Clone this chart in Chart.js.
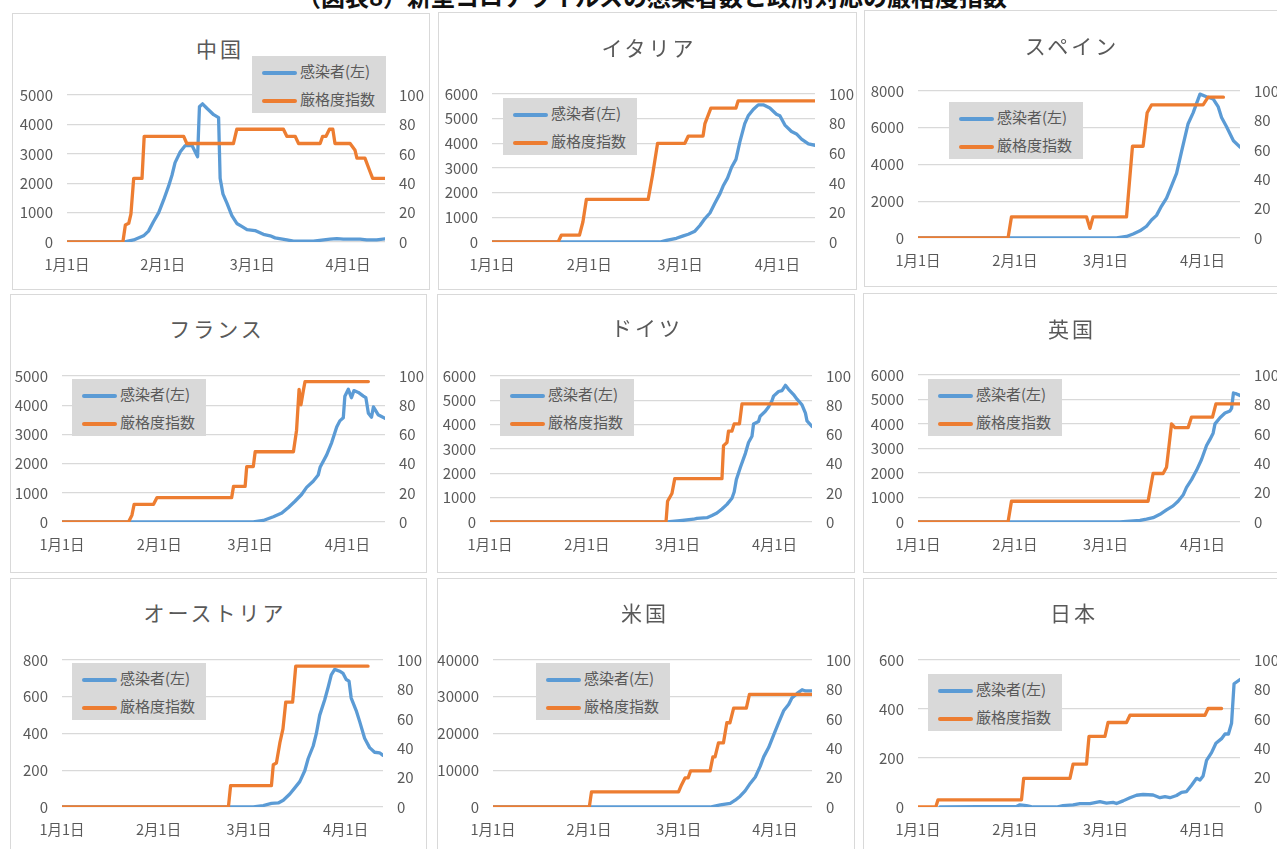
<!DOCTYPE html>
<html>
<head>
<meta charset="utf-8">
<script src="https://cdn.jsdelivr.net/npm/chart.js@4.4.1/dist/chart.umd.min.js"></script>
<style>
  body { margin: 0; width: 1277px; height: 849px; overflow: hidden; background: #fff; position: relative;
         font-family: "Noto Sans CJK JP", "Noto Sans", sans-serif; }
  .frame { position: absolute; border: 1px solid #d9d9d9; box-sizing: border-box; }
  .ttl { position: absolute; width: 300px; text-align: center; font-size: 21px; letter-spacing: 3px; color: #595959; line-height: 24px; }
  .lg { position: absolute; width: 134px; height: 57px; background: #d9d9d9; font-size: 15px; color: #595959; }
  .lg div { position: absolute; left: 10px; height: 20px; line-height: 20px; white-space: nowrap; }
  .lg span { display: inline-block; width: 35px; height: 4px; border-radius: 2px; vertical-align: middle; margin-right: 3px; }
  canvas { position: absolute; }
  #head { position: absolute; left: 0; width: 1304px; top: -22px; text-align: center; font-weight: bold; font-size: 24px; color: #111; white-space: nowrap; }
</style>
</head>
<body>
<div id="head">（図表8）新型コロナウイルスの感染者数と政府対応の厳格度指数</div>
<script>
// day 0 = 1月1日
const monthDays = [0, 31, 60, 91];
const monthLabels = ['1月1日', '2月1日', '3月1日', '4月1日'];
const seriesNames = ['感染者(左)', '厳格度指数'];
const countries = ['中国', 'イタリア', 'スペイン', 'フランス', 'ドイツ', '英国', 'オーストリア', '米国', '日本'];
const leftMax = [5000, 6000, 8000, 5000, 6000, 6000, 800, 40000, 600];
const leftStep = [1000, 1000, 2000, 1000, 1000, 1000, 200, 10000, 200];

// [day, value]
const chinaCases = [[0,0],[18.3,0],[21.6,70],[24.8,210],[26.4,370],[28,690],[29.7,1000],[31.3,1430],[32.9,1900],[34,2270],[35,2700],[36.7,3070],[38.3,3280],[40.5,3280],[41.5,3070],[42.3,2900],[42.9,4600],[43.9,4700],[45.3,4550],[47.5,4330],[49.1,4230],[49.6,2170],[50.5,1640],[51.8,1320],[53.4,900],[55,630],[56.6,530],[58.3,420],[60.9,390],[63.6,260],[65.8,210],[67.4,140],[71.2,70],[73.4,30],[79.8,30],[85.2,95],[87.4,115],[89.5,95],[94.9,95],[97.1,70],[100.3,70],[103,105]];
const chinaIndex = [[0,0],[18.1,0],[18.9,11.6],[20,12.7],[20.7,19],[21.6,43.3],[24.3,43.3],[25,71.9],[37.8,71.9],[38.8,67],[53.9,67],[55,76.7],[70.1,76.7],[71.2,71.9],[73.9,71.9],[75,67],[82,67],[82.8,71.9],[83.9,71.9],[85,76.7],[86.1,76.7],[86.8,67],[91.7,67],[93.3,62.4],[93.9,57.1],[96.5,57.1],[98.2,47.6],[99,43.3],[103,43.3]];

const italyCases = [[0,0],[53.5,0],[55.6,63],[58.8,150],[61,250],[62.6,316],[64.7,440],[66.3,670],[67.9,950],[69.5,1175],[71.1,1580],[72.7,1960],[73.7,2270],[75.1,2590],[76.4,3030],[77.8,3350],[79,4040],[80.6,4800],[81.7,5115],[83.3,5370],[84.9,5560],[86.5,5560],[88.6,5430],[90.7,5180],[91.8,5115],[93.4,4740],[95.5,4480],[97.1,4380],[98.7,4170],[100.9,3980],[103,3920]];
const italyIndex = [[0,0],[21.1,0],[22.1,4.6],[27.9,4.6],[29,13.7],[30.1,28.8],[49.8,28.8],[51.2,45.3],[52.8,66.7],[61.5,66.7],[62.6,71.6],[67.3,71.6],[67.9,80],[69.8,90.5],[77.8,90.5],[78.5,95.4],[103,95.4]];

const spainCases = [[0,0],[63.5,0],[66.7,85],[68.8,220],[71,390],[73.1,640],[74.7,980],[76.3,1230],[77.9,1740],[79.5,2170],[81.1,2840],[82.7,3520],[84.3,4700],[86.4,6220],[88,6810],[90.2,7830],[92.3,7690],[94.4,7570],[96,7150],[97.1,6560],[98.7,6050],[100.9,5290],[103,4950]];
const spainIndex = [[0,0],[28.8,0],[29.9,14.4],[53.9,14.4],[55,6.6],[56,14.4],[66.7,14.4],[68.6,62.4],[72,62.4],[73.3,85.2],[74.7,90.5],[91.2,90.5],[92.8,95.8],[97.7,95.8]];

const franceCases = [[0,0],[61,0],[64.2,53],[67.4,180],[70.1,307],[72.2,498],[74.3,710],[76.4,942],[78,1186],[80.1,1398],[81.7,1610],[82.3,1874],[84.4,2298],[86,2721],[87.6,3250],[88.6,3463],[89.7,3569],[90.2,4310],[91.3,4543],[92.3,4257],[93.1,4500],[94.5,4437],[96.1,4310],[96.9,4257],[97.7,3728],[98.7,3590],[99.3,3940],[100.8,3675],[103,3548]];
const franceIndex = [[0,0],[21.2,0],[22.3,4.7],[23,12.1],[29.2,12.1],[30.3,16.7],[54.1,16.7],[54.7,24.4],[58.4,24.4],[58.9,37.9],[61,37.9],[61.6,48.1],[73.8,48.1],[74.8,62.9],[75.6,90.9],[76.2,80.3],[77,90.5],[77.5,96.2],[97.7,96.2]];

const germanyCases = [[0,0],[56.6,0],[60.8,51],[65.1,114],[66.2,152],[69.4,178],[71,267],[72.6,369],[74.2,534],[75.8,724],[77.4,979],[78.1,1233],[78.8,1741],[80.1,2250],[81.7,2822],[82.7,3266],[83.8,3521],[84.3,4029],[85.9,4131],[86.4,4347],[88,4538],[89.1,4728],[90.2,4982],[90.7,5173],[92.3,5364],[93.4,5402],[94.5,5618],[95.5,5453],[97.1,5236],[98.2,5046],[99.8,4817],[100.9,4474],[101.4,4156],[103,3927]];
const germanyIndex = [[0,0],[56.3,0],[56.8,14.2],[58.2,19.5],[59.1,29.7],[74.2,29.7],[74.7,52.3],[75.8,54.4],[76.3,62.3],[77.4,62.3],[78.1,67.2],[79.8,67.2],[80.6,80.9],[98.2,80.9]];

const ukCases = [[0,0],[64.6,0],[71,63],[73.1,114],[75.2,177],[77.4,316],[79.5,493],[81.6,657],[83.2,846],[84.8,1099],[85.9,1415],[87.5,1730],[89.1,2109],[90.7,2551],[92.3,3120],[93.4,3372],[94.4,3625],[95,4004],[96.6,4257],[98.2,4446],[99.8,4534],[100.3,4635],[100.9,5267],[101.9,5229],[103,5166]];
const ukIndex = [[0,0],[28.8,0],[29.9,14.1],[73.6,14.1],[75.2,33],[78.4,33],[79.5,37.3],[81.1,66.7],[82.2,64.2],[86.4,64.2],[87.5,71.4],[94.2,71.4],[95.3,80.4],[103,80.4]];

const austriaCases = [[0,0],[61.4,0],[64.6,8],[67.2,20],[69.4,22],[71,37],[73.1,71],[74.7,104],[76.3,138],[77.9,197],[79,264],[80.6,332],[81.6,399],[82.7,500],[84.3,584],[85.4,652],[86.4,719],[87.5,749],[89.1,739],[90.2,727],[91.2,694],[92.1,685],[92.8,593],[94.4,525],[95.5,466],[97.1,374],[98.7,323],[100.3,298],[101.9,295],[103,281]];
const austriaIndex = [[0,0],[53.4,0],[54.1,14.5],[67.2,14.5],[67.8,28.8],[68.8,29.9],[69.9,43.6],[70.9,53.1],[71.8,71.4],[74,71.4],[75,95.8],[98.2,95.8]];

const usCases = [[0,0],[70.1,0],[73.4,590],[76.6,1010],[78.2,1850],[79.8,2950],[81.4,4380],[83.1,6480],[84.7,8170],[86.3,11110],[87.4,13640],[89,16170],[90.6,19530],[92.2,22900],[93.9,26270],[95.5,27950],[96.5,29640],[98.2,30900],[99.8,31910],[100.9,31580],[103,31580]];
const usIndex = [[0,0],[31.1,0],[31.8,10.3],[59.9,10.3],[60.9,15.2],[62,19.8],[63,19.8],[63.8,24.6],[70.1,24.6],[71,34.1],[71.7,34.1],[72.8,43.6],[74.4,43.6],[75.5,57.3],[76.5,57.3],[77.7,67.2],[81.8,67.2],[82.8,76.6],[103,76.6]];

const japanCases = [[7,0],[31.5,2],[32.6,9],[34.7,6],[36.8,0],[44.3,0],[46.4,6],[49.6,9],[51.8,14],[55,14],[58.2,22],[60.3,16],[62.4,19],[63.5,14],[65.6,25],[67.8,38],[69.9,48],[72,51],[75.2,49],[77.4,38],[79,42],[80.6,38],[82.7,47],[84.3,60],[85.9,63],[87.5,89],[89.1,117],[90.2,110],[91.2,127],[92.3,190],[93.9,222],[95.3,260],[97.1,279],[98.2,298],[99.3,298],[100.3,342],[101.1,503],[103,520]];
const japanIndex = [[0,0],[5.7,0],[6.4,4.9],[33.1,4.9],[33.8,19.5],[48.6,19.5],[49.6,29.2],[53.9,29.2],[54.7,48],[59.8,48],[60.8,57.5],[66.7,57.5],[67.8,62.4],[91.8,62.4],[92.8,67],[97.1,67]];

const casesList = [chinaCases, italyCases, spainCases, franceCases, germanyCases, ukCases, austriaCases, usCases, japanCases];
const indexList = [chinaIndex, italyIndex, spainIndex, franceIndex, germanyIndex, ukIndex, austriaIndex, usIndex, japanIndex];

// layout: frame box, plot area, title centre, legend box
const frames = [[12,13,430,290],[438,12,857,290],[864,10,1290,287],[10,294,427,573],[437,294,855,573],[863,293,1290,573],[10,578,427,860],[437,578,855,860],[863,578,1290,860]];
const plots = [[67,84,385,242],[492,83,815,242],[918,80,1240,238],[62,365,385,522],[490,365,812,522],[918,364,1240,522],[62,649,383,807],[493,649,812,807],[918,649,1240,807]];
const titlePos = [[220,48],[649,47],[1072,45],[217,328],[647,327],[1072,328],[215,612],[645,612],[1074,612]];
const legendPos = [[252,56],[503,98],[949,102],[72,379],[500,379],[928,379],[72,663],[536,663],[928,674]];

const BLUE = '#5b9bd5', ORANGE = '#ed7d31', GREY = '#595959';
const PADL = 60, PADR = 50, PADT = 12, PADB = 40;
const yFont = { family: '"Noto Sans CJK JP", sans-serif', size: 15 };
const xFont = { family: '"Noto Sans CJK JP", sans-serif', size: 14.5 };

function el(tag, cls, css) {
  const d = document.createElement(tag);
  if (cls) d.className = cls;
  Object.assign(d.style, css || {});
  document.body.appendChild(d);
  return d;
}

countries.forEach((name, i) => {
  const f = frames[i];
  el('div', 'frame', { left: f[0] + 'px', top: f[1] + 'px', width: (f[2] - f[0]) + 'px', height: (f[3] - f[1]) + 'px' });

  const p = plots[i];
  const cv = el('canvas', null, { left: (p[0] - PADL) + 'px', top: (p[1] - PADT) + 'px' });
  cv.width = p[2] - p[0] + PADL + PADR;
  cv.height = p[3] - p[1] + PADT + PADB;

  const t = el('div', 'ttl', { left: (titlePos[i][0] - 150) + 'px', top: (titlePos[i][1] - 12) + 'px' });
  t.textContent = name;

  const lg = el('div', 'lg', { left: legendPos[i][0] + 'px', top: legendPos[i][1] + 'px' });
  lg.innerHTML = '<div style="top:5px"><span style="background:' + BLUE + '"></span>' + seriesNames[0] + '</div>' +
                 '<div style="top:33px"><span style="background:' + ORANGE + '"></span>' + seriesNames[1] + '</div>';

  new Chart(cv, {
    type: 'line',
    data: {
      datasets: [
        { label: seriesNames[0], data: casesList[i].map(d => ({ x: d[0], y: d[1] })), yAxisID: 'yL',
          borderColor: BLUE, order: 1 },
        { label: seriesNames[1], data: indexList[i].map(d => ({ x: d[0], y: d[1] })), yAxisID: 'yR',
          borderColor: ORANGE, order: 0 }
      ]
    },
    options: {
      responsive: false,
      animation: false,
      devicePixelRatio: 1,
      layout: { padding: { top: PADT, left: 0, right: 0, bottom: 0 } },
      elements: {
        point: { radius: 0 },
        line: { borderWidth: 3.3, tension: 0, borderCapStyle: 'round', borderJoinStyle: 'round', fill: false }
      },
      plugins: { legend: { display: false }, tooltip: { enabled: false } },
      scales: {
        x: {
          type: 'linear', min: 0, max: 103,
          afterBuildTicks: s => { s.ticks = monthDays.map(v => ({ value: v })); },
          afterFit: s => { s.height = PADB; },
          ticks: { autoSkip: false, maxRotation: 0, color: GREY, font: xFont, padding: 14,
                   callback: v => monthLabels[monthDays.indexOf(v)] },
          grid: { display: false, drawTicks: false },
          border: { display: false }
        },
        yL: {
          position: 'left', min: 0, max: leftMax[i],
          afterFit: s => { s.width = PADL; },
          ticks: { stepSize: leftStep[i], color: GREY, font: yFont, padding: 14, callback: v => String(v) },
          grid: { color: '#d9d9d9', lineWidth: 1.3, drawTicks: false },
          border: { display: false }
        },
        yR: {
          position: 'right', min: 0, max: 100,
          afterFit: s => { s.width = PADR; },
          ticks: { stepSize: 20, color: GREY, font: yFont, padding: 14, callback: v => String(v) },
          grid: { display: false, drawTicks: false },
          border: { display: false }
        }
      }
    }
  });
});
</script>
</body>
</html>
